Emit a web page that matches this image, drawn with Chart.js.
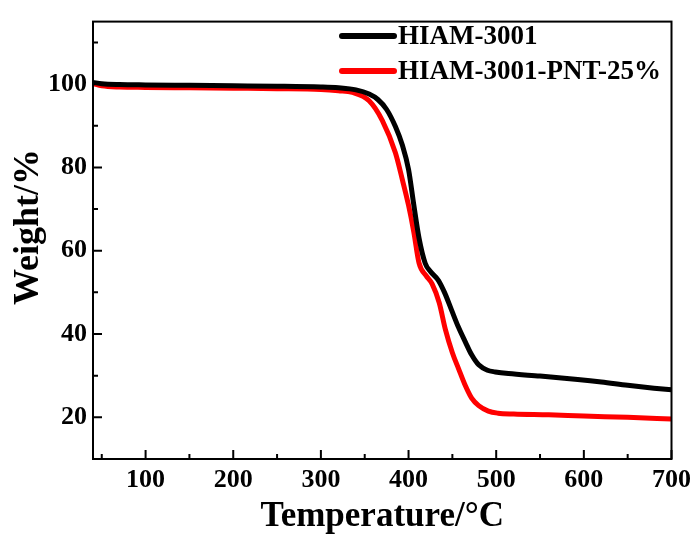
<!DOCTYPE html>
<html>
<head>
<meta charset="utf-8">
<script src="https://cdn.jsdelivr.net/npm/chart.js@4/dist/chart.umd.min.js"></script>
<style>
  html, body { margin: 0; padding: 0; background: #fff; }
  #wrap { width: 697px; height: 535px; position: relative; }
</style>
</head>
<body>
<div id="wrap"><canvas id="c" width="697" height="535"></canvas></div>
<script>
// ---- data ----
const seriesNames = ['HIAM-3001', 'HIAM-3001-PNT-25%'];
const seriesColors = ['#000000', '#ff0000'];

const tempA = [40, 50, 70, 100, 150, 200, 250, 300, 320, 340, 355, 365, 375, 385, 393, 400, 406, 412, 419, 425, 434, 441, 449, 457, 465, 472, 480, 490, 499, 514, 550, 593, 620, 650, 680, 700];
const weightA = [100.4, 100.1, 99.9, 99.8, 99.7, 99.6, 99.5, 99.3, 99.1, 98.6, 97.6, 96.3, 93.9, 89.8, 85.3, 79.5, 71.0, 63.0, 57.0, 55.0, 52.9, 50.0, 45.8, 41.6, 38.0, 35.0, 32.6, 31.3, 30.9, 30.5, 29.9, 29.1, 28.5, 27.7, 27.0, 26.6];

const tempB = [40, 50, 70, 100, 150, 200, 250, 300, 320, 336, 355, 370, 385, 393, 400, 406, 412, 420, 427, 435, 442, 450, 457, 465, 472, 480, 491, 502, 520, 560, 600, 650, 700];
const weightB = [100.1, 99.6, 99.3, 99.2, 99.1, 99.0, 98.9, 98.7, 98.4, 98.0, 96.0, 91.3, 83.5, 77.0, 70.9, 64.5, 57.0, 54.0, 52.0, 47.5, 41.1, 35.5, 31.7, 27.5, 24.6, 22.8, 21.5, 21.0, 20.8, 20.6, 20.3, 20.0, 19.6];

const xMajorTicks = [100, 200, 300, 400, 500, 600, 700];
const xMinorTicks = [50, 150, 250, 350, 450, 550, 650];
const yMajorTicks = [20, 40, 60, 80, 100];
const yMinorTicks = [30, 50, 70, 90, 110];

const xTitle = 'Temperature/°C';
const yTitle = 'Weight/%';

// ---- chart ----
const FONT = '"Liberation Serif", "Times New Roman", serif';

const frame = {
  id: 'frame',
  afterDatasetsDraw(chart) {
    const { ctx, chartArea: a, scales } = chart;
    ctx.save();
    ctx.strokeStyle = '#000';
    ctx.lineWidth = 2;
    ctx.strokeRect(a.left, a.top, a.right - a.left, a.bottom - a.top);
    ctx.beginPath();
    const xs = scales.x, ys = scales.y;
    const xt = (v, len) => { const p = xs.getPixelForValue(v); ctx.moveTo(p, a.bottom); ctx.lineTo(p, a.bottom - len); };
    const yt = (v, len) => { const p = ys.getPixelForValue(v); ctx.moveTo(a.left, p); ctx.lineTo(a.left + len, p); };
    xMajorTicks.forEach(v => xt(v, 9));
    xMinorTicks.forEach(v => xt(v, 5));
    yMajorTicks.forEach(v => yt(v, 9));
    yMinorTicks.forEach(v => yt(v, 5));
    ctx.stroke();

    // legend inside plot area
    const ds = chart.data.datasets;
    ctx.font = 'bold 27px ' + FONT;
    ctx.textBaseline = 'middle';
    ctx.textAlign = 'left';
    ds.forEach((d, i) => {
      const y = 36 + i * 35;
      ctx.strokeStyle = d.borderColor;
      ctx.lineWidth = 6;
      ctx.lineCap = 'round';
      ctx.beginPath();
      ctx.moveTo(342, y);
      ctx.lineTo(394, y);
      ctx.stroke();
      ctx.fillStyle = '#000';
      ctx.fillText(d.label, 398, y + 1);
    });

    // axis titles
    ctx.fillStyle = '#000';
    ctx.textAlign = 'center';
    ctx.textBaseline = 'middle';
    ctx.font = 'bold 35px ' + FONT;
    ctx.fillText(xTitle, (a.left + a.right) / 2, 517);
    ctx.translate(29, 227);
    ctx.rotate(-Math.PI / 2);
    ctx.font = 'bold 36px ' + FONT;
    ctx.fillText(yTitle, 0, 0);
    ctx.restore();
  }
};

new Chart(document.getElementById('c'), {
  type: 'line',
  data: {
    datasets: [
      { label: seriesNames[0], data: tempA.map((t, i) => ({ x: t, y: weightA[i] })), borderColor: seriesColors[0], borderWidth: 5, pointRadius: 0, cubicInterpolationMode: 'monotone', fill: false },
      { label: seriesNames[1], data: tempB.map((t, i) => ({ x: t, y: weightB[i] })), borderColor: seriesColors[1], borderWidth: 5, pointRadius: 0, cubicInterpolationMode: 'monotone', fill: false }
    ]
  },
  options: {
    responsive: false,
    animation: false,
    layout: { padding: { left: 0, top: 13, right: 24, bottom: 0 } },
    plugins: { legend: { display: false }, tooltip: { enabled: false } },
    scales: {
      x: {
        type: 'linear', min: 40, max: 700,
        afterBuildTicks: s => { s.ticks = xMajorTicks.map(v => ({ value: v })); },
        afterFit: s => { s.height = 76; },
        grid: { display: false, drawTicks: false },
        border: { display: false },
        ticks: { color: '#000', padding: 6, font: { family: FONT, size: 26, weight: 'bold' }, maxRotation: 0 },
        title: { display: false }
      },
      y: {
        type: 'linear', min: 10, max: 115,
        afterBuildTicks: s => { s.ticks = yMajorTicks.map(v => ({ value: v })); },
        afterFit: s => { s.width = 93; },
        grid: { display: false, drawTicks: false },
        border: { display: false },
        ticks: { color: '#000', padding: 6, font: { family: FONT, size: 26, weight: 'bold' } },
        title: { display: false }
      }
    }
  },
  plugins: [frame]
});
</script>
</body>
</html>
